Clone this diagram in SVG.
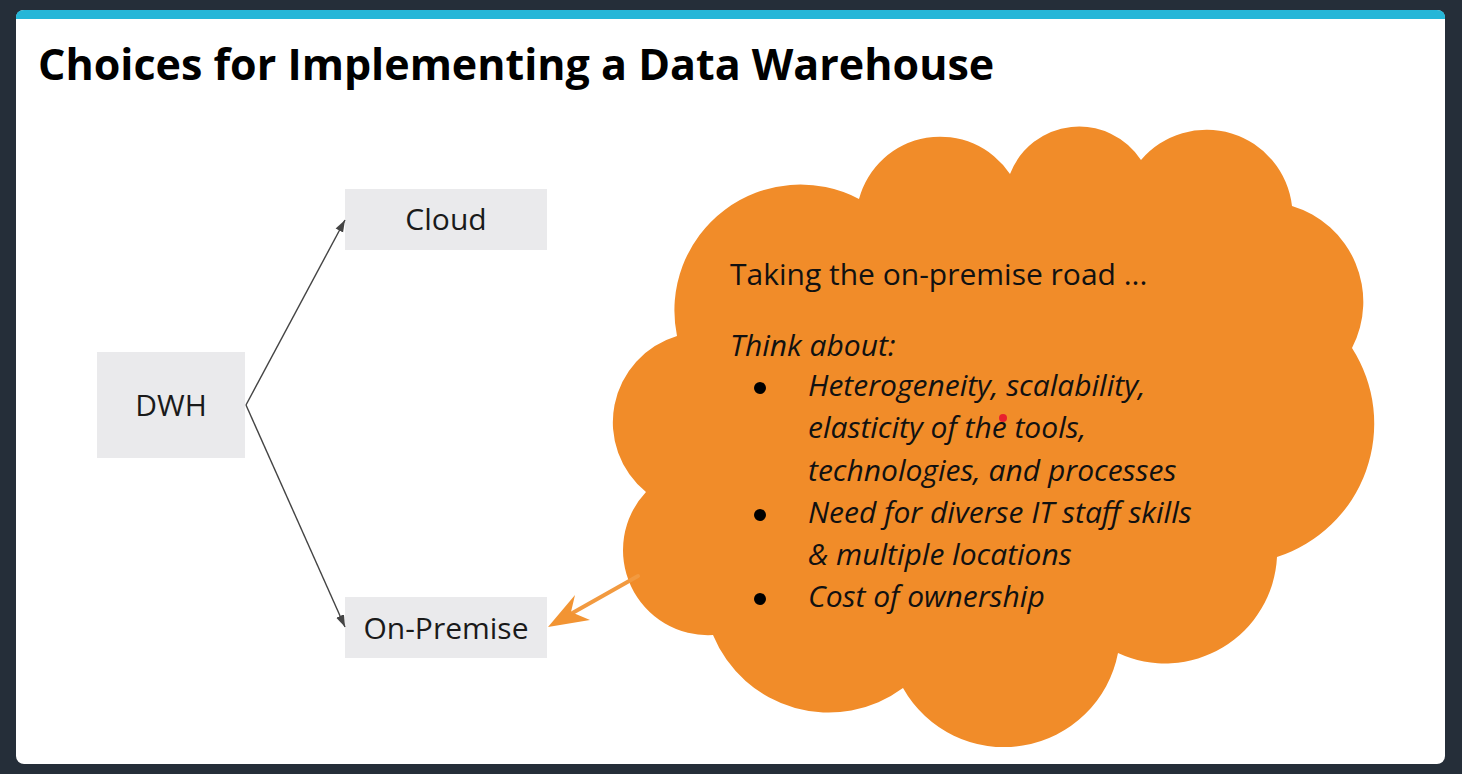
<svg xmlns="http://www.w3.org/2000/svg" width="1462" height="774" viewBox="0 0 1462 774">
  <defs>
    <style>
      .box { fill: #EAEAEC; }
      .lbl { font-family: "Open Sans", "Liberation Sans", sans-serif; font-size: 30px; fill: #1a1a1a; text-anchor: middle; }
      .title { font-family: "Open Sans", "Liberation Sans", sans-serif; font-size: 43px; font-weight: bold; fill: #000; }
      .ct { font-family: "Open Sans", "Liberation Sans", sans-serif; font-size: 30px; fill: #111; }
      .it { font-style: italic; }
      .conn { stroke: #444; stroke-width: 1.4; fill: none; }
    </style>
    <marker id="ah" viewBox="0 0 12 10" refX="12" refY="5" markerWidth="12" markerHeight="10" markerUnits="userSpaceOnUse" orient="auto">
      <path d="M0,0.8 L12,5 L0,9.2 Z" fill="#444"/>
    </marker>
  </defs>
  <rect x="0" y="0" width="1462" height="774" fill="#252e39"/>
  <rect x="16" y="10" width="1429" height="754" rx="8" fill="#ffffff"/>
  <path d="M16,19 L16,18 Q16,10 24,10 L1437,10 Q1445,10 1445,18 L1445,19 Z" fill="#25B6D8"/>
  <text class="title" x="38" y="80">Choices for Implementing a Data Warehouse</text>

  <g id="node-dwh">
    <rect class="box" x="97" y="352" width="148" height="106"/>
    <text class="lbl" x="171" y="416">DWH</text>
  </g>
  <g id="node-cloud">
    <rect class="box" x="345" y="189" width="202" height="61"/>
    <text class="lbl" x="446" y="230">Cloud</text>
  </g>
  <g id="node-onpremise">
    <rect class="box" x="345" y="597" width="202" height="61"/>
    <text class="lbl" x="446" y="639">On-Premise</text>
  </g>

  <g id="node-thought">
    <path fill="#F18C29" d="M677,336 A126,126 0 0 1 859,199 A84,84 0 0 1 1010,174 A74,74 0 0 1 1141,160 A86,86 0 0 1 1292,206 A100,100 0 0 1 1352,348 A140,140 0 0 1 1277,557 A112,112 0 0 1 1118,653 A116,116 0 0 1 903,688 A125,125 0 0 1 713,635 A85,85 0 0 1 646,492 A90,90 0 0 1 677,336 Z"/>
    <text class="ct" x="730" y="285">Taking the on-premise road ...</text>
    <text class="ct it" x="730" y="356">Think about:</text>
    <g fill="#000">
      <circle cx="760" cy="388" r="6"/>
      <circle cx="760" cy="515" r="6"/>
      <circle cx="760" cy="599" r="6"/>
    </g>
    <text class="ct it" x="808" y="396">Heterogeneity, scalability,</text>
    <text class="ct it" x="808" y="438">elasticity of the tools,</text>
    <text class="ct it" x="808" y="481">technologies, and processes</text>
    <text class="ct it" x="808" y="523">Need for diverse IT staff skills</text>
    <text class="ct it" x="808" y="565">&amp; multiple locations</text>
    <text class="ct it" x="808" y="607">Cost of ownership</text>
    <circle cx="1003" cy="418" r="4" fill="#E8202E"/>
  </g>

  <g id="connectors">
    <path class="conn" d="M246,405 L345,220" marker-end="url(#ah)"/>
    <path class="conn" d="M246,405 L345,627" marker-end="url(#ah)"/>
    <line x1="638" y1="576" x2="560" y2="620" stroke="#F29A40" stroke-width="4" stroke-linecap="round"/>
    <path d="M548,627 L575,595 L571,612 L590,620 Z" fill="#F29433"/>
  </g>
</svg>
